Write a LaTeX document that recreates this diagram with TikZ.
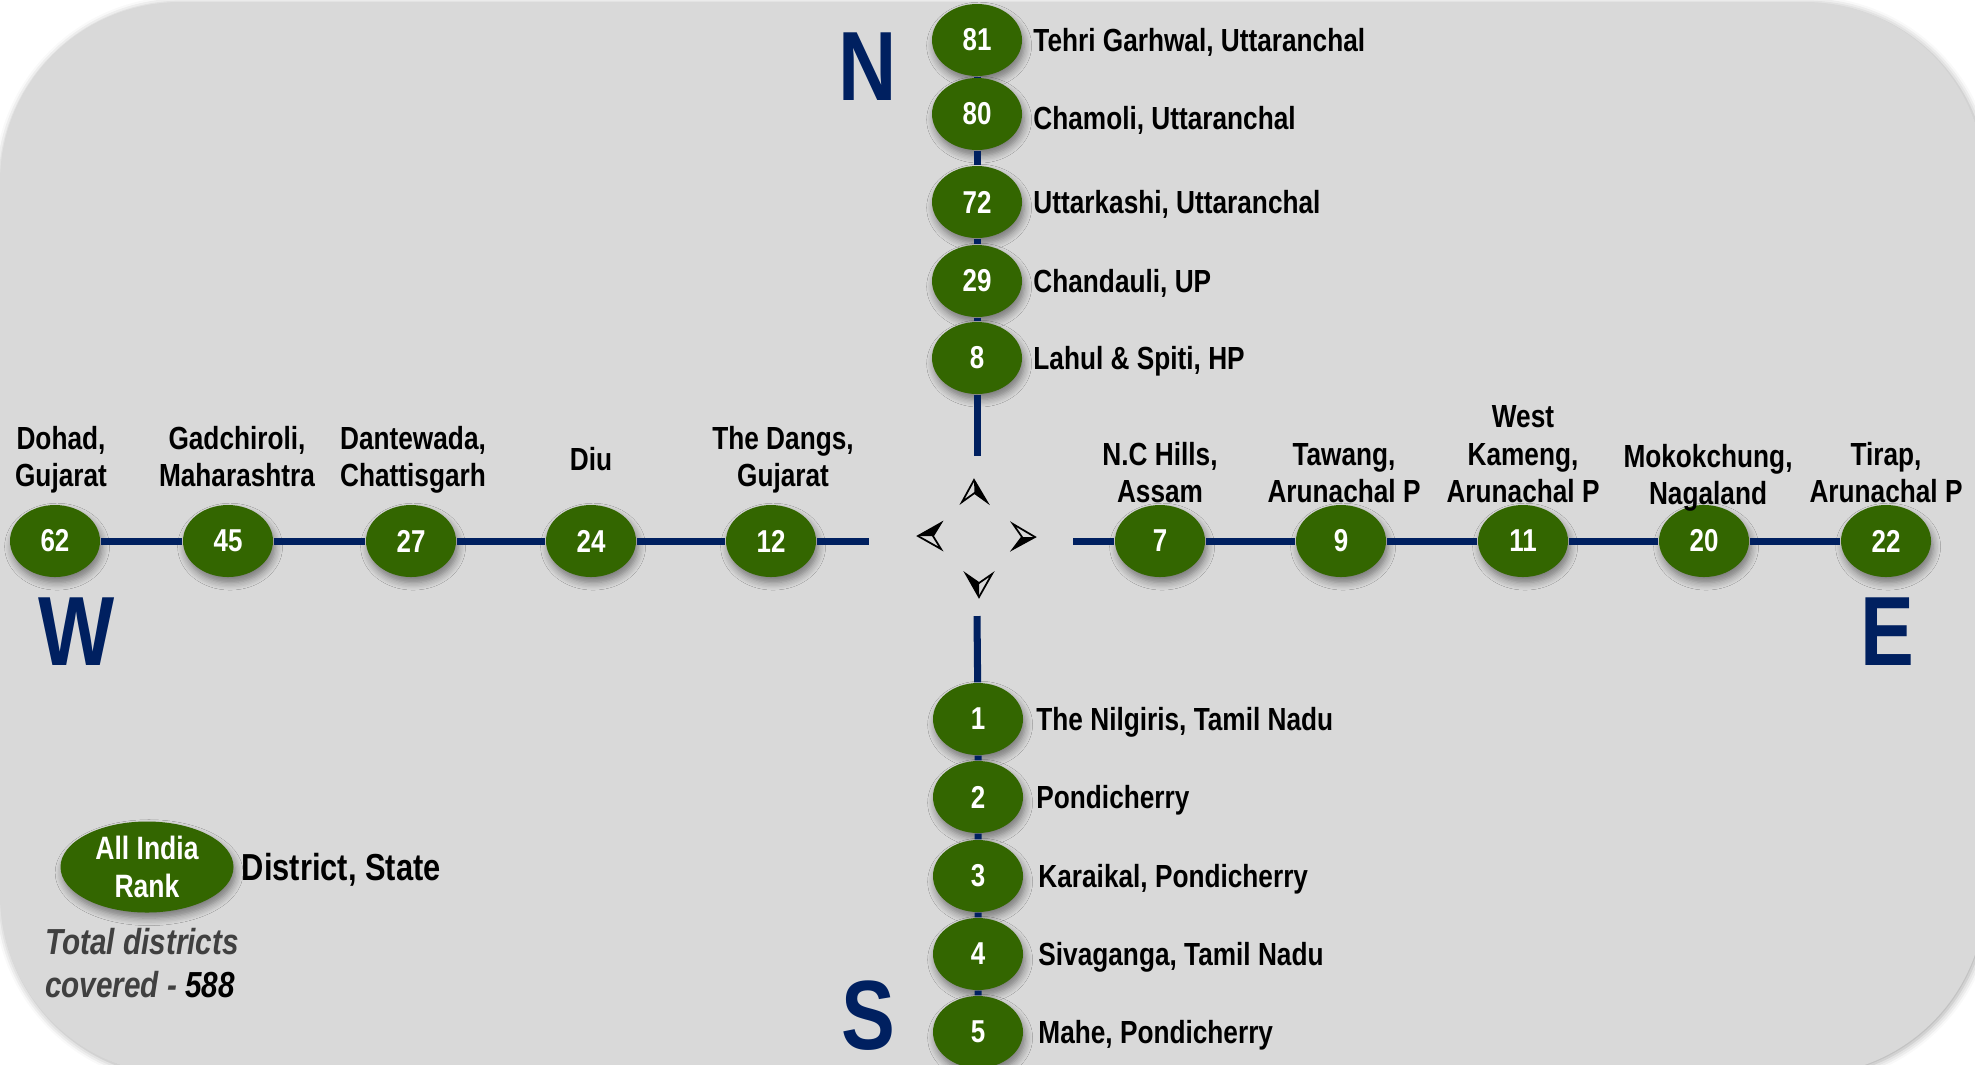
\documentclass[tikz,border=0pt]{standalone}
\usepackage{fontspec}
\setmainfont{Liberation Sans}[FakeStretch=0.82]
\usetikzlibrary{shapes.geometric}
\usetikzlibrary{positioning}
\usetikzlibrary{shadows.blur}
\usepackage{xcolor}
\definecolor{rankgreen}{HTML}{336600}
\definecolor{routeblue}{HTML}{002060}
\definecolor{panelgray}{HTML}{D9D9D9}
\definecolor{notegray}{HTML}{404040}
\tikzset{
  rank/.style={ellipse, fill=rankgreen, text=white, minimum width=0.9cm, minimum height=0.72cm, inner sep=0pt,
    font=\bfseries\fontsize{9}{10.7}\selectfont,
    blur shadow={shadow xshift=0.6pt, shadow yshift=-1.6pt, shadow blur steps=6, shadow opacity=45}},
  route/.style={routeblue, line width=2pt},
  sidelbl/.style={inner sep=0pt, text height=6.5pt, text depth=0pt, font=\bfseries\fontsize{9.1}{10.7}\selectfont},
  toplbl/.style={inner sep=0pt, align=center, font=\bfseries\fontsize{9.1}{10.7}\selectfont, execute at end node=\vphantom{g}},
  dirletter/.style={text=routeblue, inner sep=0pt, text height=20pt, text depth=0pt, font=\bfseries\fontsize{28}{30}\selectfont},
  needle/.style={draw=black, line width=0.5pt, line join=miter},
}
\begin{document}
\begin{tikzpicture}[x=1cm, y=-1cm]
\useasboundingbox (0,0) rectangle (19.75,10.64);
\fill[panelgray, rounded corners=1.8cm, blur shadow={shadow xshift=0.5pt, shadow yshift=-0.5pt, shadow opacity=35}] (0,0.02) rectangle (19.85,10.75);

% north
\node[rank] (n81) at (9.77,0.40) {81};
\node[rank] (n80) at (9.77,1.14) {80};
\node[rank] (n72) at (9.77,2.02) {72};
\node[rank] (n29) at (9.77,2.81) {29};
\node[rank] (n8) at (9.77,3.58) {8};
\node[sidelbl, right=0.1cm of n81] (l81) {Tehri Garhwal, Uttaranchal};
\node[sidelbl, right=0.1cm of n80, yshift=-0.04cm] (l80) {Chamoli, Uttaranchal};
\node[sidelbl, right=0.1cm of n72] (l72) {Uttarkashi, Uttaranchal};
\node[sidelbl, right=0.1cm of n29] (l29) {Chandauli, UP};
\node[sidelbl, right=0.1cm of n8] (l8) {Lahul \& Spiti, HP};
\coordinate (nend) at (9.77,4.56);
\draw[route] (n81) -- (n80) -- (n72) -- (n29) -- (n8) -- (nend);

% south
\node[rank] (s1) at (9.78,7.19) {1};
\node[rank] (s2) at (9.78,7.97) {2};
\node[rank] (s3) at (9.78,8.76) {3};
\node[rank] (s4) at (9.78,9.54) {4};
\node[rank] (s5) at (9.78,10.32) {5};
\node[sidelbl, right=0.12cm of s1] (l1) {The Nilgiris, Tamil Nadu};
\node[sidelbl, right=0.12cm of s2] (l2) {Pondicherry};
\node[sidelbl, right=0.14cm of s3] (l3) {Karaikal, Pondicherry};
\node[sidelbl, right=0.14cm of s4] (l4) {Sivaganga, Tamil Nadu};
\node[sidelbl, right=0.14cm of s5] (l5) {Mahe, Pondicherry};
\coordinate (sstart) at (9.77,6.16);
\draw[route] (sstart) -- (s1) -- (s2) -- (s3) -- (s4) -- (s5);

% west
\node[rank] (w62) at (0.55,5.41) {62};
\node[rank] (w45) at (2.28,5.41) {45};
\node[rank] (w27) at (4.11,5.41) {27};
\node[rank] (w24) at (5.91,5.41) {24};
\node[rank] (w12) at (7.71,5.41) {12};
\node[toplbl, above=0.1cm of w62, xshift=0.06cm] (t62) {Dohad,\\Gujarat};
\node[toplbl, above=0.1cm of w45, xshift=0.09cm] (t45) {Gadchiroli,\\Maharashtra};
\node[toplbl, above=0.1cm of w27, xshift=0.02cm] (t27) {Dantewada,\\Chattisgarh};
\node[toplbl, above=0.26cm of w24] (t24) {Diu};
\node[toplbl, above=0.1cm of w12, xshift=0.12cm] (t12) {The Dangs,\\Gujarat};
\coordinate (wend) at (8.69,5.41);
\draw[route] (w62) -- (w45) -- (w27) -- (w24) -- (w12) -- (wend);

% east
\node[rank] (e7) at (11.60,5.41) {7};
\node[rank] (e9) at (13.41,5.41) {9};
\node[rank] (e11) at (15.23,5.41) {11};
\node[rank] (e20) at (17.04,5.41) {20};
\node[rank] (e22) at (18.86,5.41) {22};
\node[toplbl, above=-0.06cm of e7] (t7) {N.C Hills,\\Assam};
\node[toplbl, above=-0.06cm of e9, xshift=0.03cm] (t9) {Tawang,\\Arunachal P};
\node[toplbl, above=-0.06cm of e11] (t11) {West\\Kameng,\\Arunachal P};
\node[toplbl, above=-0.08cm of e20, xshift=0.04cm] (t20) {Mokokchung,\\Nagaland};
\node[toplbl, above=-0.06cm of e22] (t22) {Tirap,\\Arunachal P};
\coordinate (estart) at (10.73,5.41);
\draw[route] (estart) -- (e7) -- (e9) -- (e11) -- (e20) -- (e22);

% compass
\node[dirletter] (north) at (8.68,0.65) {N};
\node[dirletter] (west) at (0.77,6.30) {W};
\node[dirletter] (east) at (18.87,6.30) {E};
\node[dirletter] (south) at (8.68,10.14) {S};
\fill (9.74,4.80) -- (9.87,5.02) -- (9.745,4.93) -- cycle;
\draw[needle] (9.74,4.80) -- (9.62,5.02) -- (9.745,4.93) -- (9.87,5.02) -- cycle;
\fill (9.18,5.36) -- (9.41,5.23) -- (9.33,5.36) -- cycle;
\draw[needle] (9.18,5.36) -- (9.41,5.23) -- (9.33,5.36) -- (9.41,5.49) -- cycle;
\fill (10.35,5.37) -- (10.13,5.49) -- (10.22,5.37) -- cycle;
\draw[needle] (10.35,5.37) -- (10.13,5.24) -- (10.22,5.37) -- (10.13,5.49) -- cycle;
\fill (9.79,5.97) -- (9.66,5.74) -- (9.79,5.83) -- cycle;
\draw[needle] (9.79,5.97) -- (9.66,5.74) -- (9.79,5.83) -- (9.92,5.74) -- cycle;

% legend
\node[rank, minimum width=1.73cm, minimum height=0.91cm, align=center, font=\bfseries\fontsize{9.2}{10.8}\selectfont] (key) at (1.47,8.67) {All India\\Rank};
\node[sidelbl, text height=7.7pt, font=\bfseries\fontsize{10.7}{12}\selectfont, right=0.07cm of key] (keytext) {District, State};
\node[below=0.14cm of key, xshift=-0.05cm, inner sep=0pt, align=left, text=notegray, font=\bfseries\itshape\fontsize{10.3}{12.2}\selectfont] (total) {Total districts\\covered - {\color{black}588}};
\end{tikzpicture}
\end{document}
